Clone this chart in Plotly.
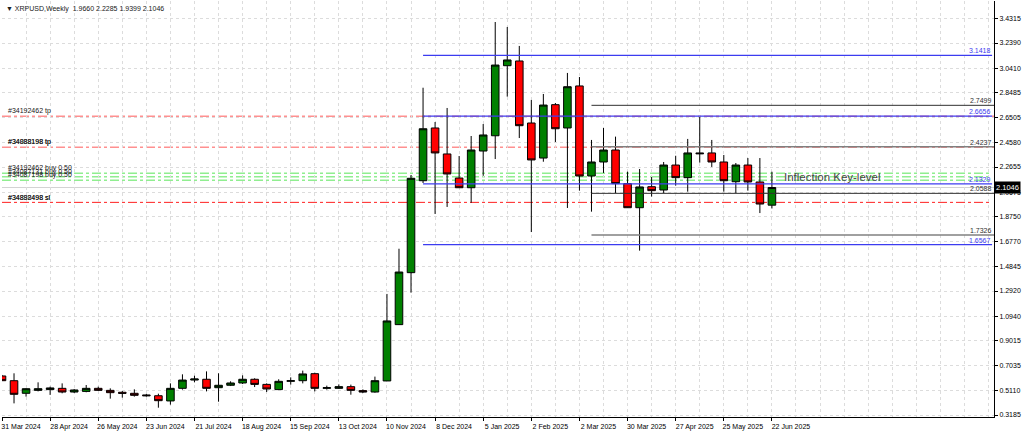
import plotly.graph_objects as go

FONT = "Liberation Sans"

# weekly candles, 31 Mar 2024 .. 22 Jun 2025
opens = [0.625, 0.588, 0.489, 0.512, 0.518, 0.528, 0.499, 0.504, 0.528, 0.512, 0.497, 0.489, 0.476,
         0.470, 0.429, 0.528, 0.593, 0.599, 0.533, 0.552, 0.570, 0.599, 0.559, 0.518, 0.583, 0.588,
         0.643, 0.528, 0.528, 0.541, 0.510, 0.499, 0.586, 1.028, 1.436, 2.158, 2.572, 2.368, 2.179,
         2.103, 2.391, 2.511, 3.061, 3.098, 2.611, 2.336, 2.755, 2.572, 2.902, 2.195, 2.305, 2.399,
         2.135, 1.946, 2.111, 2.085, 2.281, 2.182, 2.376, 2.376, 2.305, 2.150, 2.281, 2.148, 1.966]
highs = [0.633, 0.646, 0.528, 0.575, 0.541, 0.567, 0.523, 0.554, 0.541, 0.528, 0.507, 0.520, 0.484,
         0.486, 0.567, 0.638, 0.627, 0.661, 0.646, 0.583, 0.630, 0.607, 0.567, 0.599, 0.614, 0.667,
         0.651, 0.549, 0.559, 0.557, 0.520, 0.620, 1.269, 1.624, 2.203, 2.888, 2.619, 2.729, 2.352,
         2.509, 2.603, 3.404, 3.365, 3.216, 2.792, 2.839, 2.768, 3.004, 2.972, 2.478, 2.572, 2.504,
         2.229, 2.250, 2.187, 2.305, 2.354, 2.486, 2.658, 2.478, 2.360, 2.297, 2.336, 2.336, 2.2285]
lows = [0.586, 0.410, 0.463, 0.504, 0.476, 0.489, 0.491, 0.497, 0.507, 0.447, 0.455, 0.463, 0.463,
        0.376, 0.400, 0.518, 0.575, 0.504, 0.423, 0.546, 0.562, 0.538, 0.499, 0.515, 0.557, 0.567,
        0.504, 0.518, 0.523, 0.478, 0.491, 0.494, 0.586, 1.025, 1.279, 2.140, 1.897, 1.952, 2.101,
        1.985, 2.197, 2.328, 2.818, 2.493, 1.755, 2.307, 2.462, 1.944, 2.080, 1.915, 2.219, 2.062,
        1.944, 1.609, 2.033, 2.062, 2.119, 2.072, 2.300, 2.266, 2.072, 2.062, 2.080, 1.904, 1.9399]
closes = [0.588, 0.481, 0.525, 0.525, 0.531, 0.499, 0.515, 0.528, 0.512, 0.494, 0.489, 0.473, 0.470,
          0.431, 0.528, 0.593, 0.601, 0.528, 0.552, 0.570, 0.599, 0.559, 0.523, 0.583, 0.588, 0.641,
          0.528, 0.533, 0.541, 0.512, 0.499, 0.588, 1.057, 1.441, 2.177, 2.566, 2.376, 2.211, 2.103,
          2.399, 2.517, 3.066, 3.106, 2.590, 2.321, 2.752, 2.566, 2.896, 2.195, 2.305, 2.399, 2.135,
          1.946, 2.109, 2.080, 2.281, 2.182, 2.376, 2.370, 2.305, 2.158, 2.281, 2.148, 1.975, 2.1046]

date_labels = ["31 Mar 2024", "28 Apr 2024", "26 May 2024", "23 Jun 2024", "21 Jul 2024", "18 Aug 2024",
               "15 Sep 2024", "13 Oct 2024", "10 Nov 2024", "8 Dec 2024", "5 Jan 2025", "2 Feb 2025",
               "2 Mar 2025", "30 Mar 2025", "27 Apr 2025", "25 May 2025", "22 Jun 2025"]
price_ticks = [3.4315, 3.2390, 3.0410, 2.8485, 2.6505, 2.4580, 2.2655, 2.0675, 1.8750, 1.6770,
               1.4845, 1.2920, 1.0940, 0.9015, 0.7035, 0.5110, 0.3185]

# horizontal levels
blue_levels = [3.1418, 2.6656, 2.1329, 1.6567]
black_levels = [2.7499, 2.0588]
grey_levels = [2.4237, 1.7326]
tp_levels = [2.665, 2.42]
buy_levels = [2.216, 2.189, 2.161]
sl_level = 1.988
last_close = 2.1046

X_END = 82.46
DASHDOT = "9px,3px,3px,3px"
GRID = "#dcdcdc"
BLUE = "#3c3cf0"


def level(y, x0, x1, color, width=1, dash="solid"):
    return go.Scatter(x=[x0, x1], y=[y, y], mode="lines", hoverinfo="skip", showlegend=False,
                      line=dict(color=color, width=width, dash=dash))


def back_level(y, x1, color, width=1, dash="solid"):
    # shapes on the below layer stay behind the candles, a scatter would not
    fig.add_shape(type="line", x0=0, x1=x1, y0=y, y1=y, xref="x", yref="y", layer="below",
                  line=dict(color=color, width=width, dash=dash))


fig = go.Figure()

back_level(last_close, X_END, "#d3d3d3")
for y in tp_levels:
    back_level(y, X_END, "#ff9090", 1.5, DASHDOT)
for y in buy_levels:
    back_level(y, 82.1, "#90ee90", 1.5, DASHDOT)
back_level(sl_level, 82.1, "#ff2020", 1, DASHDOT)

fig.add_trace(go.Candlestick(
    x=list(range(len(opens))), open=opens, high=highs, low=lows, close=closes,
    increasing=dict(fillcolor="#008000", line=dict(color="#000000", width=1)),
    decreasing=dict(fillcolor="#ff0000", line=dict(color="#000000", width=1)),
    whiskerwidth=0, showlegend=False,
))

# drawn trend levels go over the candles
for y in blue_levels:
    fig.add_trace(level(y, 35, 82.3, BLUE, 1.3))
for y in black_levels:
    fig.add_trace(level(y, 49, X_END, "#303030", 1))
for y in grey_levels:
    fig.add_trace(level(y, 49, X_END, "#808080", 1.5))


def note(text, x, y, size=7, color="#202020", anchor="left", **kw):
    fig.add_annotation(text=text, x=x, y=y, xref="x", yref="y", showarrow=False, xanchor=anchor,
                       yanchor="bottom", borderpad=0, font=dict(family=FONT, size=size, color=color), **kw)


for y in blue_levels:
    note(f"{y:.4f}", 82.3, y, color=BLUE, anchor="right")
for y in black_levels + grey_levels:
    note(f"{y:.4f}", X_END - 0.1, y, color="#303030", anchor="right")

note("#34192462 tp", 0.4, tp_levels[0])
note("#34888198 tp", 0.4, tp_levels[1])
note("#34088198 tp", 0.4, tp_levels[1])
note("#34192462 buy 0.50", 0.4, buy_levels[0])
note("#34087131 buy 0.50", 0.4, buy_levels[1])
note("#34087198 buy 0.50", 0.4, buy_levels[2])
note("#34888498 sl", 0.4, sl_level)
note("#34892498 sl", 0.4, sl_level)

fig.add_annotation(text="Inflection Key-level", x=64.85, y=2.187, xref="x", yref="y", showarrow=False,
                   xanchor="left", font=dict(family=FONT, size=11.5, color="#454545"))
fig.add_annotation(text="▼ XRPUSD,Weekly  1.9660 2.2285 1.9399 2.1046", x=0.002, y=0.994, xref="paper",
                   yref="paper", showarrow=False, xanchor="left", yanchor="top",
                   font=dict(family=FONT, size=7, color="#202020"))
fig.add_annotation(text=f"{last_close:.4f}", x=1, y=last_close, xref="paper", yref="y", showarrow=False,
                   xanchor="left", xshift=0, bgcolor="#000000", borderpad=1,
                   font=dict(family=FONT, size=7.5, color="#ffffff"))

fig.update_layout(
    width=1024, height=433, autosize=False,
    margin=dict(l=2, r=30, t=1, b=16),
    paper_bgcolor="#ffffff", plot_bgcolor="#ffffff",
    showlegend=False, boxgap=0.1,
    xaxis=dict(
        range=[0, X_END], rangeslider=dict(visible=False),
        tickvals=list(range(0, 65, 4)), ticktext=date_labels, ticklabelshift=19,
        ticks="outside", ticklen=3, tickcolor="#000000", tickfont=dict(family=FONT, size=7, color="#000000"),
        showgrid=True, gridcolor=GRID, griddash="3px,3px", gridwidth=1,
        minor=dict(tick0=0, dtick=2, showgrid=True, gridcolor=GRID, griddash="3px,3px", gridwidth=1, ticks=""),
        showline=True, linecolor="#000000", linewidth=1, zeroline=False,
    ),
    yaxis=dict(
        range=[0.3029, 3.5689], side="right",
        tickvals=price_ticks, ticktext=[f"{v:.4f}" for v in price_ticks],
        ticks="outside", ticklen=3, tickcolor="#000000", tickfont=dict(family=FONT, size=7, color="#000000"),
        showgrid=True, gridcolor=GRID, griddash="3px,3px", gridwidth=1,
        showline=True, linecolor="#000000", linewidth=1, zeroline=False,
    ),
)

# the page's default body margin would push the figure 8px off
fig.write_html("out.html", config=dict(displayModeBar=False), post_script="document.body.style.margin='0';")
